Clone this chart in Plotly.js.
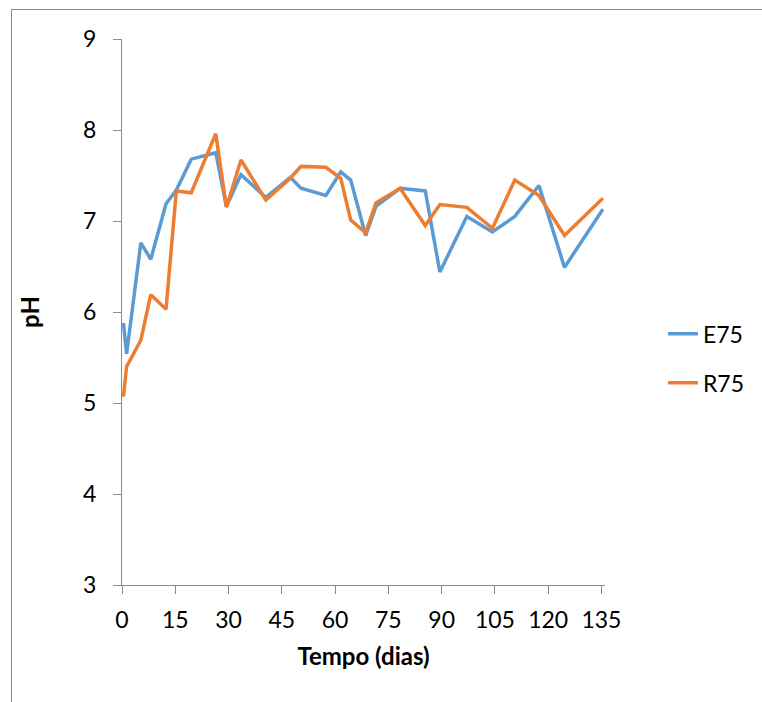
<!DOCTYPE html>
<html>
<head>
<meta charset="utf-8">
<script src="https://cdn.plot.ly/plotly-3.0.1.min.js"></script>
<style>
  html, body { margin: 0; padding: 0; background: #ffffff; }
  #chart { position: absolute; left: 0; top: 0; width: 762px; height: 702px; }
  #frame { position: absolute; left: 11px; top: 9px; width: 760px; height: 700px;
           border-left: 1px solid #8a8a8a; border-top: 1px solid #8a8a8a; pointer-events: none; }
</style>
</head>
<body>
<div id="chart"></div>
<div id="frame"></div>
<script>
// Days (Tempo, dias)
const days = [0.4, 1.3, 5.3, 8.1, 12.4, 15.3, 19.5, 26.4, 29.4, 33.5, 40.5, 47.4, 50.4, 57.4,
              61.6, 64.4, 68.6, 71.5, 78.3, 85.4, 89.5, 97.1, 104.3, 110.6, 117.4, 124.6, 135.4];
// pH series
const e75 = [5.88, 5.54, 6.76, 6.58, 7.19, 7.34, 7.68, 7.75, 7.16, 7.51, 7.26, 7.48, 7.36, 7.28,
             7.54, 7.45, 6.84, 7.16, 7.36, 7.33, 6.44, 7.05, 6.88, 7.05, 7.39, 6.49, 7.13];
const r75 = [5.07, 5.40, 5.69, 6.19, 6.03, 7.33, 7.31, 7.96, 7.15, 7.67, 7.23, 7.47, 7.60, 7.59,
             7.47, 7.01, 6.87, 7.20, 7.36, 6.95, 7.18, 7.15, 6.92, 7.45, 7.28, 6.84, 7.25];
const seriesNames = ["E75", "R75"];
const xTicks = [0, 15, 30, 45, 60, 75, 90, 105, 120, 135];
const yTicks = [3, 4, 5, 6, 7, 8, 9];

const FONT = "Lato, 'Open Sans', sans-serif";

const traces = [
  { x: days, y: e75, name: seriesNames[0], type: "scatter", mode: "lines",
    line: { color: "#5B9BD5", width: 3.5 }, legendgroup: "a" },
  { x: days, y: r75, name: seriesNames[1], type: "scatter", mode: "lines",
    line: { color: "#ED7D31", width: 3.5 }, legendgroup: "b" }
];

const axisCommon = {
  showgrid: false, zeroline: false, showline: true,
  linecolor: "#8a8a8a", linewidth: 1,
  ticks: "outside", ticklen: 8, tickcolor: "#8a8a8a", tickwidth: 1,
  tickfont: { family: FONT, size: 23, color: "#000" }
};

const layout = {
  width: 762, height: 702,
  margin: { l: 122, r: 155, t: 39, b: 117, pad: 0 },
  paper_bgcolor: "rgba(0,0,0,0)", plot_bgcolor: "rgba(0,0,0,0)",
  xaxis: Object.assign({}, axisCommon, {
    range: [0, 136], tickmode: "array", tickvals: xTicks, ticktext: xTicks.map(String),
    ticklabelstandoff: 6,
    title: { text: "<b>Tempo (dias)</b>", font: { family: FONT, size: 24, color: "#000" }, standoff: 16 }
  }),
  yaxis: Object.assign({}, axisCommon, {
    range: [3, 9], tickmode: "array", tickvals: yTicks, ticktext: yTicks.map(String),
    ticklabelstandoff: 12,
    title: { text: "<b>pH</b>", font: { family: FONT, size: 24, color: "#000" }, standoff: 36 }
  }),
  showlegend: true,
  legend: {
    x: 1.12, xanchor: "left", y: 0.415, yanchor: "middle",
    font: { family: FONT, size: 23, color: "#000" },
    tracegroupgap: 16, bgcolor: "rgba(0,0,0,0)"
  }
};

Plotly.newPlot("chart", traces, layout, { displayModeBar: false, staticPlot: true });
</script>
</body>
</html>
